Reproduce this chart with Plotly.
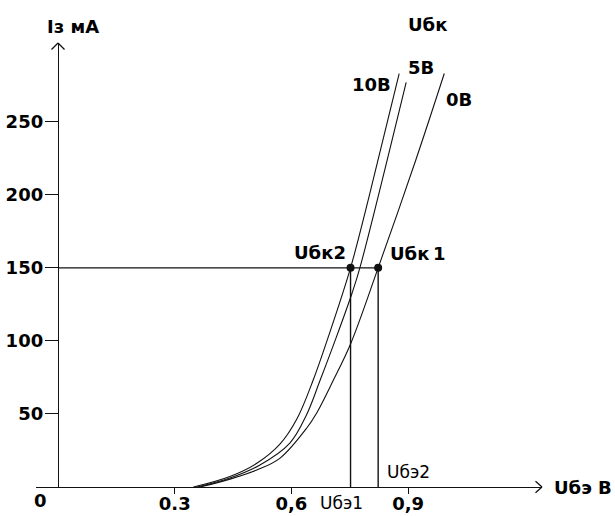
import plotly.graph_objects as go

# ---- data ----
# Input characteristics Iэ = f(Uбэ) for three collector-base voltages
u_10v = [0.348, 0.442, 0.511, 0.571, 0.614, 0.656, 0.695, 0.752, 0.798, 0.877]
i_10v = [0, 7.2, 16.2, 29.5, 46.5, 73.2, 102.9, 150, 197, 283]

u_5v = [0.357, 0.442, 0.519, 0.596, 0.639, 0.674, 0.716, 0.756, 0.776, 0.895]
i_5v = [0, 6.2, 15.1, 30.1, 49.5, 73.2, 102.9, 132.8, 150, 277]

u_0v = [0.365, 0.442, 0.511, 0.571, 0.639, 0.665, 0.708, 0.752, 0.823, 0.920, 0.993]
i_0v = [0, 5.4, 11.6, 19.8, 40.2, 50.7, 73.2, 97.9, 150, 224, 283]

# working point construction
i_ref = 150          # mA
u_be1 = 0.752        # V  (on 10 V curve)
u_be2 = 0.823        # V  (on 0 V curve)

# axis ticks
x_ticks = [0.3, 0.6, 0.9]
x_tick_text = ["0.3", "0,6", "0,9"]
y_ticks = [50, 100, 150, 200, 250]

# ---- figure ----
W, H = 615, 516
X_RANGE = [-0.0566, 1.2442]
Y_RANGE = [0, 303.9]
INK = "#111111"
FONT = "DejaVu Sans"

fig = go.Figure()

for u, i in [(u_10v, i_10v), (u_5v, i_5v), (u_0v, i_0v)]:
    fig.add_trace(go.Scatter(x=u, y=i, mode="lines",
                             line=dict(color=INK, width=1.1, shape="spline", smoothing=1.0),
                             hoverinfo="skip", showlegend=False))

guide = dict(color=INK, width=1.4)
fig.add_trace(go.Scatter(x=[0, u_be2], y=[i_ref, i_ref], mode="lines", line=guide,
                         showlegend=False, hoverinfo="skip"))
fig.add_trace(go.Scatter(x=[u_be1, u_be1], y=[0, i_ref], mode="lines", line=guide,
                         showlegend=False, hoverinfo="skip"))
fig.add_trace(go.Scatter(x=[u_be2, u_be2], y=[0, i_ref], mode="lines", line=guide,
                         showlegend=False, hoverinfo="skip"))
fig.add_trace(go.Scatter(x=[u_be1, u_be2], y=[i_ref, i_ref], mode="markers",
                         marker=dict(color=INK, size=8), showlegend=False, hoverinfo="skip"))

bold = dict(family=FONT, size=18, color="#000", weight="bold")
reg = dict(family=FONT, size=17, color="#000")

ann = []
# arrow heads (two short arms each)
for ax_, ay_ in [(-8, 8), (8, 8)]:
    ann.append(dict(x=0, y=Y_RANGE[1], xref="x", yref="y", text="", showarrow=True,
                    arrowhead=0, arrowwidth=1.3, arrowcolor=INK, ax=ax_, ay=ay_,
                    axref="pixel", ayref="pixel", standoff=0, startstandoff=0))
for ax_, ay_ in [(-8, -7), (-8, 7)]:
    ann.append(dict(x=X_RANGE[1], y=0, xref="x", yref="y", text="", showarrow=True,
                    arrowhead=0, arrowwidth=1.3, arrowcolor=INK, ax=ax_, ay=ay_,
                    axref="pixel", ayref="pixel", standoff=0, startstandoff=0))

# (text, anchor x, anchor y, xshift, yshift, font, xanchor)
labels = [
    ("Iз мА", 0, Y_RANGE[1], 15, 16.5, bold, "center"),
    ("Uбк", 0.951, Y_RANGE[1], 0, 18.5, bold, "center"),
    ("10В", 0.805, 275.8, 0, 0, bold, "center"),
    ("5В", 0.934, 287.1, 0, 0, bold, "center"),
    ("0В", 1.030, 264.9, 0, 0, bold, "center"),
    ("Uбк2", u_be1, i_ref, -30.5, 15, bold, "center"),
    ("Uбк\u20091", u_be2, i_ref, 40, 14, bold, "center"),
    ("Uбэ2", u_be2, 0, 30, 15.5, reg, "center"),
    ("Uбэ1", u_be1, 0, -9, -15.5, reg, "center"),
    ("Uбэ В", X_RANGE[1], 0, 10, 0, bold, "left"),
    ("0", 0, 0, -17.3, -13, bold, "center"),
]
for txt, x, y, xs, ys, f, xa in labels:
    ann.append(dict(x=x, y=y, xref="x", yref="y", text=txt, showarrow=False,
                    xshift=xs, yshift=ys, xanchor=xa, yanchor="middle", font=f))

fig.update_layout(
    width=W, height=H,
    margin=dict(l=0, r=0, t=0, b=0),
    paper_bgcolor="white", plot_bgcolor="white",
    showlegend=False,
    annotations=ann,
    xaxis=dict(domain=[36 / W, 542 / W], range=X_RANGE, anchor="y",
               showline=True, linecolor=INK, linewidth=1.4,
               ticks="outside", ticklen=6, tickwidth=1.2, tickcolor=INK,
               tickvals=x_ticks, ticktext=x_tick_text, tickfont=bold,
               ticklabelstandoff=-6,
               showgrid=False, zeroline=False, fixedrange=True),
    yaxis=dict(domain=[29 / H, 473 / H], range=Y_RANGE, anchor="free", position=58 / W,
               showline=True, linecolor=INK, linewidth=1.4,
               ticks="outside", ticklen=13, tickwidth=1.4, tickcolor=INK,
               tickvals=y_ticks, tickfont=bold,
               ticklabelstandoff=-2,
               showgrid=False, zeroline=False, fixedrange=True),
)

fig.write_html("out.html", config={"displayModeBar": False},
               post_script="document.body.style.margin='0';document.body.style.overflow='hidden';")
